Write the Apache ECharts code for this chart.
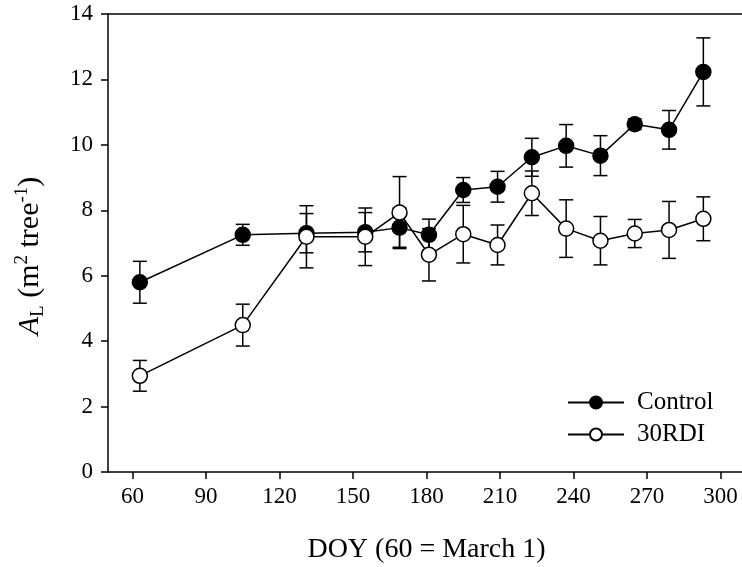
<!DOCTYPE html>
<html>
<head>
<meta charset="utf-8">
<script src="https://cdn.jsdelivr.net/npm/echarts@6/dist/echarts.min.js"></script>
<style>
html,body{margin:0;padding:0;background:#fff;}
#chart{width:742px;height:567px;}
</style>
</head>
<body>
<div id="chart"></div>
<script>
// ---- data ----
var doy = [63, 105, 131, 155, 169, 181, 195, 209, 223, 237, 251, 265, 279, 293];
var controlVals = [5.80, 7.25, 7.30, 7.33, 7.47, 7.25, 8.62, 8.72, 9.62, 9.97, 9.67, 10.63, 10.46, 12.23];
var controlSE = [0.64, 0.32, 0.60, 0.60, 0.60, 0.48, 0.38, 0.47, 0.58, 0.65, 0.61, 0.16, 0.59, 1.04];
var rdiVals = [2.94, 4.49, 7.19, 7.19, 7.93, 6.64, 7.27, 6.94, 8.52, 7.44, 7.07, 7.29, 7.40, 7.74];
var rdiSE = [0.47, 0.64, 0.95, 0.88, 1.10, 0.80, 0.88, 0.61, 0.68, 0.88, 0.74, 0.43, 0.87, 0.67];
var xTicks = [60, 90, 120, 150, 180, 210, 240, 270, 300];
var seriesNames = ['Control', '30RDI'];

var FONT = '"Liberation Serif", "Times New Roman", serif';

function pairs(xs, ys) { return xs.map(function (x, i) { return [x, ys[i]]; }); }
function errData(xs, ys, se) { return xs.map(function (x, i) { return [x, ys[i] - se[i], ys[i] + se[i]]; }); }

function errRender(params, api) {
  var x = api.value(0), lo = api.value(1), hi = api.value(2);
  var pt = api.coord([x, hi]), pb = api.coord([x, lo]);
  var w = 7;
  var st = { stroke: '#000', lineWidth: 1.5, fill: null };
  return {
    type: 'group',
    children: [
      { type: 'line', shape: { x1: pt[0], y1: pt[1], x2: pb[0], y2: pb[1] }, style: st },
      { type: 'line', shape: { x1: pt[0] - w, y1: pt[1], x2: pt[0] + w, y2: pt[1] }, style: st },
      { type: 'line', shape: { x1: pb[0] - w, y1: pb[1], x2: pb[0] + w, y2: pb[1] }, style: st }
    ]
  };
}

var chart = echarts.init(document.getElementById('chart'));
chart.setOption({
  animation: false,
  backgroundColor: '#fff',
  textStyle: { fontFamily: FONT, color: '#000' },
  grid: { left: 108, top: 14, width: 637, height: 458, containLabel: false, outerBoundsMode: 'none' },
  legend: {
    data: seriesNames,
    orient: 'vertical',
    left: 562,
    top: 385,
    itemWidth: 56,
    itemHeight: 15,
    itemGap: 7,
    textStyle: { fontFamily: FONT, fontSize: 25, color: '#000', padding: [0, 0, 0, 8] }
  },
  graphic: [{
    type: 'text',
    x: 30, y: 256,
    rotation: Math.PI / 2,
    style: {
      text: '{it|A}{sub|L}{n| (m}{sup|2}{n| tree}{sup|-1}{n|)}',
      align: 'center', verticalAlign: 'middle',
      fontFamily: FONT, fontSize: 30, fill: '#000',
      rich: {
        it: { fontFamily: FONT, fontSize: 30, fontStyle: 'italic', fill: '#000' },
        n: { fontFamily: FONT, fontSize: 30, fill: '#000' },
        sub: { fontFamily: FONT, fontSize: 19, fill: '#000', padding: [16, 0, 0, 0] },
        sup: { fontFamily: FONT, fontSize: 19, fill: '#000', padding: [0, 0, 16, 0] }
      }
    }
  }],
  xAxis: [{
    type: 'value',
    min: 50, max: 310,
    position: 'bottom',
    axisLine: { show: true, lineStyle: { color: '#000', width: 1.5 } },
    axisTick: { show: true, length: 7, customValues: xTicks, lineStyle: { color: '#000', width: 1.5 } },
    axisLabel: { customValues: xTicks, fontFamily: FONT, fontSize: 23, color: '#000', margin: 13 },
    splitLine: { show: false },
    name: 'DOY (60 = March 1)',
    nameLocation: 'middle',
    nameGap: 64,
    nameTextStyle: { fontFamily: FONT, fontSize: 28, color: '#000' }
  }, {
    type: 'value',
    min: 50, max: 310,
    position: 'top',
    axisLine: { show: true, onZero: false, lineStyle: { color: '#000', width: 1.5 } },
    axisTick: { show: false },
    axisLabel: { show: false },
    splitLine: { show: false }
  }],
  yAxis: {
    type: 'value',
    min: 0, max: 14, interval: 2,
    axisLine: { show: true, lineStyle: { color: '#000', width: 1.5 } },
    axisTick: { show: true, length: 7, lineStyle: { color: '#000', width: 1.5 } },
    axisLabel: { fontFamily: FONT, fontSize: 23, color: '#000', margin: 15 },
    splitLine: { show: false }
  },
  series: [
    {
      name: 'errControl', type: 'custom', renderItem: errRender,
      encode: { x: 0, y: [1, 2] }, data: errData(doy, controlVals, controlSE), z: 1, silent: true
    },
    {
      name: 'err30RDI', type: 'custom', renderItem: errRender,
      encode: { x: 0, y: [1, 2] }, data: errData(doy, rdiVals, rdiSE), z: 1, silent: true
    },
    {
      name: seriesNames[0], type: 'line', data: pairs(doy, controlVals), z: 3,
      symbol: 'circle', symbolSize: 15,
      lineStyle: { color: '#000', width: 1.5 },
      itemStyle: { color: '#000', borderColor: '#000', borderWidth: 1.5 }
    },
    {
      name: seriesNames[1], type: 'line', data: pairs(doy, rdiVals), z: 4,
      symbol: 'circle', symbolSize: 15,
      lineStyle: { color: '#000', width: 1.5 },
      itemStyle: { color: '#fff', borderColor: '#000', borderWidth: 1.5 }
    }
  ]
});
</script>
</body>
</html>
